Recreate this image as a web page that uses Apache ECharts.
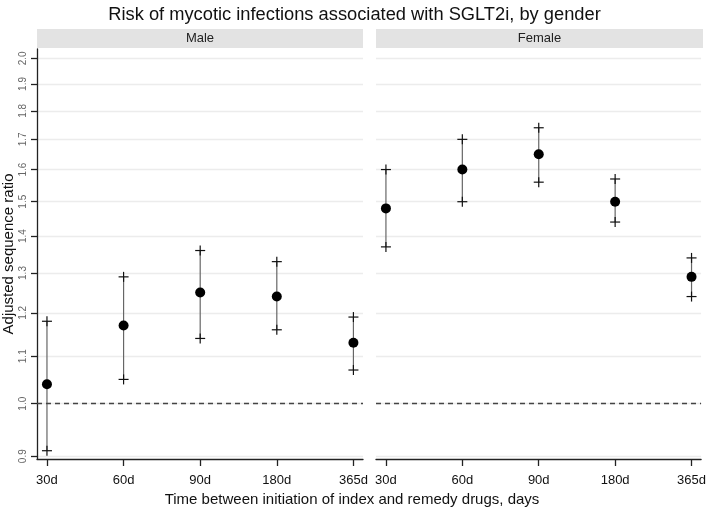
<!DOCTYPE html>
<html>
<head>
<meta charset="utf-8">
<script src="https://cdn.jsdelivr.net/npm/echarts@6/dist/echarts.min.js"></script>
<style>html,body{margin:0;padding:0;background:#fff;}#c{width:709px;height:511px;}</style>
</head>
<body>
<div id="c"></div>
<script>
const categories = ['30d', '60d', '90d', '180d', '365d'];
const panels = ['Male', 'Female'];
const maleEst = [1.04, 1.17, 1.25, 1.24, 1.13];
const maleLow = [0.91, 1.05, 1.14, 1.16, 1.07];
const maleHigh = [1.18, 1.29, 1.36, 1.33, 1.19];
const femaleEst = [1.48, 1.60, 1.65, 1.50, 1.29];
const femaleLow = [1.37, 1.50, 1.56, 1.44, 1.24];
const femaleHigh = [1.60, 1.70, 1.74, 1.57, 1.34];
const yTicks = [0.9, 1.0, 1.1, 1.2, 1.3, 1.4, 1.5, 1.6, 1.7, 1.8, 1.9, 2.0];
const refValue = 1.0;
const xIdx = categories.map((c, i) => i);

const chart = echarts.init(document.getElementById('c'), null, {renderer: 'canvas'});
const FONT = '"Liberation Sans", Arial, sans-serif';

function errData(low, high) { return xIdx.map(i => [i, low[i], high[i]]); }
function estData(est) { return xIdx.map(i => [i, est[i]]); }

function renderErr(params, api) {
  const x = api.value(0);
  const p1 = api.coord([x, api.value(1)]);
  const p2 = api.coord([x, api.value(2)]);
  const s = 5;
  const plus = (p) => [
    {type: 'line', shape: {x1: p[0] - s, y1: p[1], x2: p[0] + s, y2: p[1]}, style: {stroke: '#111', lineWidth: 1.2}},
    {type: 'line', shape: {x1: p[0], y1: p[1] - s, x2: p[0], y2: p[1] + s}, style: {stroke: '#111', lineWidth: 1.2}}
  ];
  return {
    type: 'group',
    children: [
      {type: 'line', shape: {x1: p1[0], y1: p1[1], x2: p2[0], y2: p2[1]}, style: {stroke: '#666', lineWidth: 1.2}}
    ].concat(plus(p1), plus(p2))
  };
}

const grids = [
  {left: 37, right: 346, top: 49, bottom: 52},
  {left: 376, right: 6, top: 49, bottom: 52}
];

function xAxis(gi) {
  return {
    type: 'value', gridIndex: gi, min: -0.13, max: 4.125,
    axisLine: {show: true, onZero: false, lineStyle: {color: '#222', width: 1.3}},
    axisTick: {show: true, length: 7, customValues: xIdx, lineStyle: {color: '#222', width: 1.3}},
    axisLabel: {customValues: xIdx, formatter: v => categories[Math.round(v)], color: '#111', fontSize: 13, fontFamily: FONT, margin: 15},
    splitLine: {show: false}
  };
}
function yAxis(gi) {
  const first = gi === 0;
  return {
    type: 'log', logBase: 10, gridIndex: gi, min: 0.895, max: 2.038,
    axisLine: {show: first, onZero: false, lineStyle: {color: '#222', width: 1.3}},
    axisTick: {show: first, length: 6, customValues: yTicks, lineStyle: {color: '#222', width: 1.3}},
    axisLabel: {show: first, customValues: yTicks, rotate: 90, formatter: v => Number(v).toFixed(1), color: '#666', fontSize: 10, fontFamily: FONT, margin: 9},
    splitLine: {show: true, lineStyle: {color: '#ececec', width: 1.3}},
    minorTick: {show: false}, minorSplitLine: {show: false}
  };
}

const sets = [
  {est: maleEst, low: maleLow, high: maleHigh},
  {est: femaleEst, low: femaleLow, high: femaleHigh}
];

const series = [];
sets.forEach((s, gi) => {
  series.push({
    type: 'custom', xAxisIndex: gi, yAxisIndex: gi, renderItem: renderErr,
    data: errData(s.low, s.high), z: 3, silent: true,
    markLine: {
      silent: true, symbol: 'none', label: {show: false},
      lineStyle: {type: [5, 4], color: '#444', width: 1.3},
      data: [{yAxis: refValue}]
    }
  });
  series.push({
    type: 'scatter', xAxisIndex: gi, yAxisIndex: gi, data: estData(s.est),
    symbol: 'circle', symbolSize: 10, itemStyle: {color: '#000', opacity: 1}, z: 5, silent: true
  });
});

const graphics = [];
panels.forEach((name, gi) => {
  const x0 = gi === 0 ? 37 : 376;
  const x1 = gi === 0 ? 363 : 703;
  graphics.push({type: 'rect', shape: {x: x0, y: 29, width: x1 - x0, height: 19}, style: {fill: '#e3e3e3'}, silent: true});
  graphics.push({type: 'text', x: (x0 + x1) / 2, y: 38.5, style: {text: name, fill: '#222', font: '13px ' + FONT, textAlign: 'center', textVerticalAlign: 'middle'}, silent: true});
});
graphics.push({type: 'text', x: 352, y: 500, style: {text: 'Time between initiation of index and remedy drugs, days', fill: '#111', font: '15px ' + FONT, textAlign: 'center', textVerticalAlign: 'middle'}, silent: true});
graphics.push({type: 'text', x: 9, y: 254, rotation: Math.PI / 2, style: {text: 'Adjusted sequence ratio', fill: '#111', font: '15px ' + FONT, textAlign: 'center', textVerticalAlign: 'middle'}, silent: true});

chart.setOption({
  animation: false,
  backgroundColor: '#fff',
  title: {text: 'Risk of mycotic infections associated with SGLT2i, by gender', left: 'center', top: 1, textStyle: {fontSize: 18.3, fontWeight: 'normal', color: '#111', fontFamily: FONT}},
  grid: grids,
  xAxis: [xAxis(0), xAxis(1)],
  yAxis: [yAxis(0), yAxis(1)],
  series: series,
  graphic: graphics
});
</script>
</body>
</html>
